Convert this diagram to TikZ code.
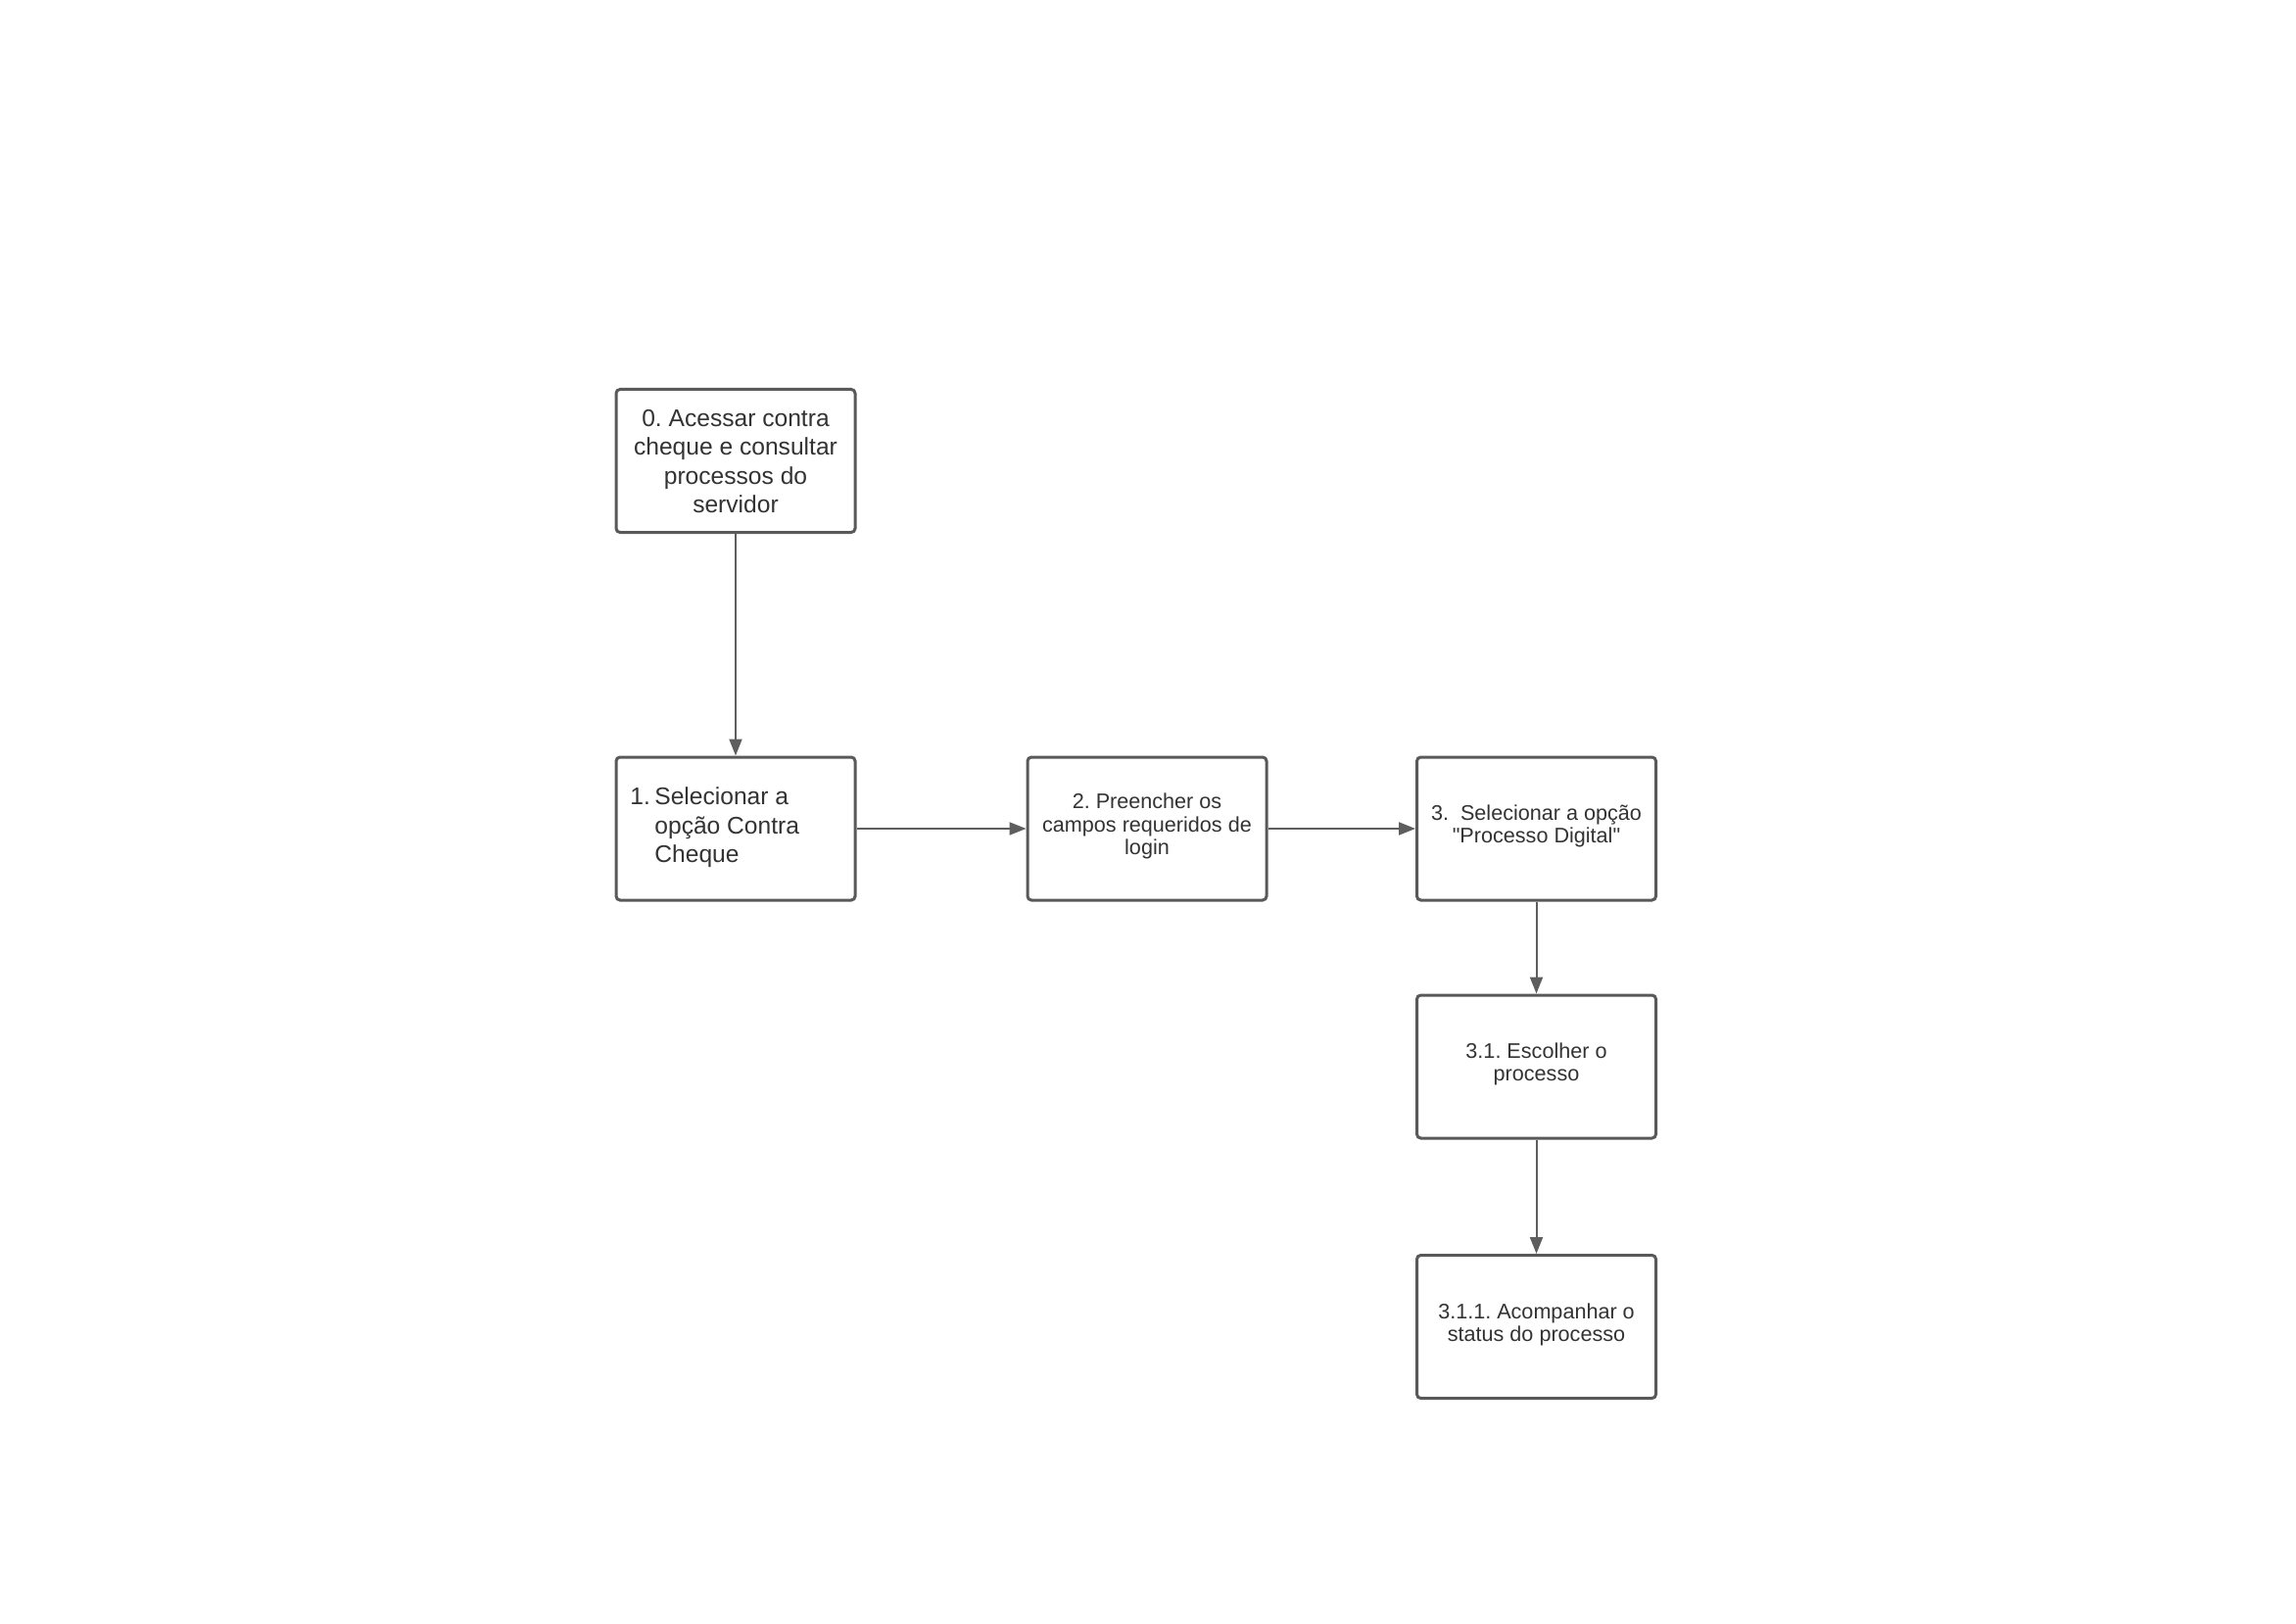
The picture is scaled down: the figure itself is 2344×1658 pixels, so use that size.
\documentclass[tikz,border=0pt]{standalone}
\usepackage{fontspec}
\setmainfont{Liberation Sans}[Ligatures=TeXOff]
\frenchspacing
\usetikzlibrary{arrows.meta}
\definecolor{boxc}{HTML}{595959}
\definecolor{txtc}{HTML}{333333}
\definecolor{arrc}{HTML}{5E5E5E}
\newcommand{\shiftv}[2]{\raisebox{#1}[\height][\depth]{#2}}
\tikzset{
  stepbox/.style={draw=boxc, line width=1.5pt, rounded corners=2pt, fill=white,
    minimum width=122pt, minimum height=73pt, text=txtc, inner sep=0pt, align=center},
  bigtxt/.style={font=\fontsize{12.3pt}{14.7pt}\selectfont\frenchspacing},
  smalltxt/.style={font=\fontsize{10.8pt}{11.6pt}\selectfont\frenchspacing},
  conn/.style={draw=arrc, line width=1pt, -{Triangle[length=8.5pt,width=6.5pt]}}
}
\begin{document}
\begin{tikzpicture}[x={(0.5pt,0)}, y={(0,-0.5pt)}]
\useasboundingbox (0,0) rectangle (2344,1658);
\node[stepbox, bigtxt] (n0) at (751,470.5) {\shiftv{-1.5pt}{\begin{tabular}{@{}c@{}}0. Acessar contra\\cheque e consultar\\processos do\\servidor\end{tabular}}};
\node[stepbox] (n1) at (751,846) {};
\node[bigtxt, text=txtc, anchor=west, align=left, inner sep=0pt] (t1) at (643,845) {\makebox[12.5pt][l]{1.}Selecionar a\\\hspace*{12.5pt}opção Contra\\\hspace*{12.5pt}Cheque};
\node[stepbox, smalltxt] (n2) at (1171,846) {\shiftv{0.75pt}{\begin{tabular}{@{}c@{}}2. Preencher os\\campos requeridos de\\login\end{tabular}}};
\node[stepbox, smalltxt] (n3) at (1568.5,846) {\shiftv{0.75pt}{\begin{tabular}{@{}c@{}}3.\ \ Selecionar a opção\\"Processo Digital"\end{tabular}}};
\node[stepbox, smalltxt] (n31) at (1568.5,1089) {\shiftv{0.75pt}{\begin{tabular}{@{}c@{}}3.1. Escolher o\\processo\end{tabular}}};
\node[stepbox, smalltxt] (n311) at (1568.5,1354.5) {\shiftv{0.75pt}{\begin{tabular}{@{}c@{}}3.1.1. Acompanhar o\\status do processo\end{tabular}}};
\draw[conn] (n0.south) -- (n1.north);
\draw[conn] (n1.east) -- (n2.west);
\draw[conn] (n2.east) -- (n3.west);
\draw[conn] (n3.south) -- (n31.north);
\draw[conn] (n31.south) -- (n311.north);
\end{tikzpicture}
\end{document}
